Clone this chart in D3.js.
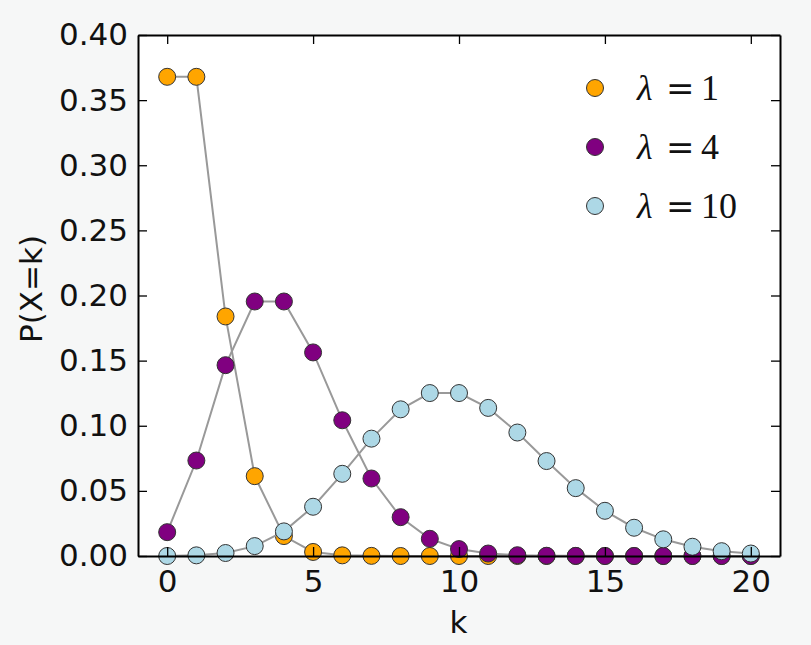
<!DOCTYPE html>
<html>
<head>
<meta charset="utf-8">
<script src="https://cdn.jsdelivr.net/npm/d3@7"></script>
<style>
  html, body { margin: 0; padding: 0; background: #f6f7f7; }
  svg { display: block; }
</style>
</head>
<body>
<svg id="chart" width="811" height="645"></svg>
<script>
// ---- data ----
const kValues = [0,1,2,3,4,5,6,7,8,9,10,11,12,13,14,15,16,17,18,19,20];
const lambda1 = [0.3679,0.3679,0.1839,0.0613,0.0153,0.0031,0.0005,0.0001,0.0000,0.0000,0.0000,0.0000,0.0000,0.0000,0.0000,0.0000,0.0000,0.0000,0.0000,0.0000,0.0000];
const lambda4 = [0.0183,0.0733,0.1465,0.1954,0.1954,0.1563,0.1042,0.0595,0.0298,0.0132,0.0053,0.0019,0.0006,0.0002,0.0001,0.0000,0.0000,0.0000,0.0000,0.0000,0.0000];
const lambda10 = [0.0000,0.0005,0.0023,0.0076,0.0189,0.0378,0.0631,0.0901,0.1126,0.1251,0.1251,0.1137,0.0948,0.0729,0.0521,0.0347,0.0217,0.0128,0.0071,0.0037,0.0019];
const seriesLambda = ["1", "4", "10"];
const seriesValues = [lambda1, lambda4, lambda10];
const seriesColors = ["#ffa500", "#800080", "#add8e6"];
const xTicks = [0,5,10,15,20];
const yTicks = [0.00,0.05,0.10,0.15,0.20,0.25,0.30,0.35,0.40];

// ---- layout ----
const svg = d3.select("#chart");
const L = 138, R = 780, T = 35, B = 556;
const x = d3.scaleLinear().domain([-1, 21]).range([L, R]);
const y = d3.scaleLinear().domain([0, 0.4]).range([B, T]);
const tickFont = "DejaVu Sans, sans-serif";
const fs = 31;

svg.append("rect").attr("x", L).attr("y", T).attr("width", R - L).attr("height", B - T).attr("fill", "#ffffff");

// ---- series ----
const line = d3.line().x((d, i) => x(kValues[i])).y(d => y(d));
seriesValues.forEach((vals, si) => {
  const g = svg.append("g");
  g.append("path").datum(vals).attr("d", line)
    .attr("fill", "none").attr("stroke", "#999999").attr("stroke-width", 2);
  g.selectAll("circle").data(vals).join("circle")
    .attr("cx", (d, i) => x(kValues[i])).attr("cy", d => y(d)).attr("r", 8.5)
    .attr("fill", seriesColors[si]).attr("stroke", "#333333").attr("stroke-width", 1);
});

// ---- axes (ticks inside, all four sides) ----
function styleAxis(g) {
  g.selectAll(".domain").attr("stroke", "#000").attr("stroke-width", 2);
  g.selectAll(".tick line").attr("stroke", "#000").attr("stroke-width", 1.3);
  g.selectAll(".tick text").attr("font-family", tickFont).attr("font-size", fs).attr("fill", "#111");
}
const tickLen = 9;
svg.append("g").attr("transform", `translate(0,${B})`)
  .call(d3.axisBottom(x).tickValues(xTicks).tickSizeInner(-tickLen).tickSizeOuter(0).tickPadding(14).tickFormat(d3.format("d")))
  .call(styleAxis);
svg.append("g").attr("transform", `translate(0,${T})`)
  .call(d3.axisTop(x).tickValues(xTicks).tickSizeInner(-tickLen).tickSizeOuter(0).tickFormat(""))
  .call(styleAxis);
svg.append("g").attr("transform", `translate(${L},0)`)
  .call(d3.axisLeft(y).tickValues(yTicks).tickSizeInner(-tickLen).tickSizeOuter(0).tickPadding(10).tickFormat(d3.format(".2f")))
  .call(styleAxis);
svg.append("g").attr("transform", `translate(${R},0)`)
  .call(d3.axisRight(y).tickValues(yTicks).tickSizeInner(-tickLen).tickSizeOuter(0).tickFormat(""))
  .call(styleAxis);

// ---- axis labels ----
svg.append("text").attr("x", (L + R) / 2 - 0.5).attr("y", 633).attr("text-anchor", "middle")
  .attr("font-family", tickFont).attr("font-size", fs).attr("fill", "#111").text("k");
svg.append("text").attr("transform", "translate(42,289) rotate(-90)").attr("text-anchor", "middle")
  .attr("font-family", tickFont).attr("font-size", fs).attr("fill", "#111").text("P(X=k)");

// ---- legend ----
const legend = svg.append("g");
seriesLambda.forEach((lam, i) => {
  const cy = 88 + i * 59;
  legend.append("circle").attr("cx", 595).attr("cy", cy).attr("r", 8.5)
    .attr("fill", seriesColors[i]).attr("stroke", "#333333").attr("stroke-width", 1);
  const t = legend.append("text").attr("y", cy + 12)
    .attr("font-family", "Liberation Serif, DejaVu Serif, serif").attr("font-size", 36).attr("fill", "#111");
  t.append("tspan").attr("x", 637).attr("font-style", "italic").text("λ");
  t.append("tspan").attr("x", 666).attr("font-family", "DejaVu Serif, serif").attr("font-size", 34).text("=");
  t.append("tspan").attr("x", 701).text(lam);
});
</script>
</body>
</html>
